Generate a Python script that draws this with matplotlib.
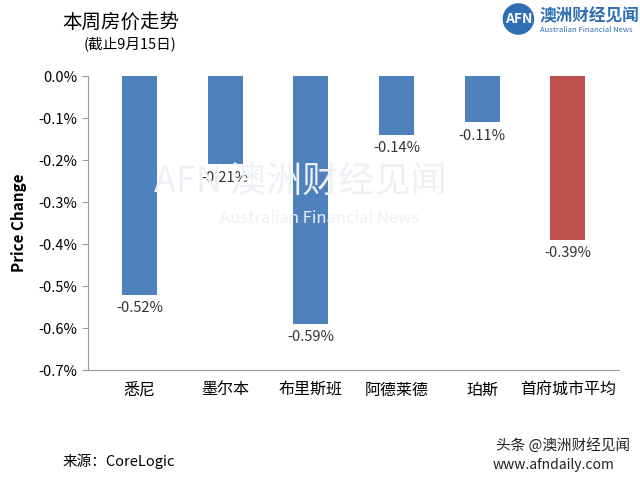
import matplotlib.pyplot as plt

plt.rcParams['font.family'] = ['Noto Sans CJK SC', 'DejaVu Sans']

cities = ["悉尼", "墨尔本", "布里斯班", "阿德莱德", "珀斯", "首府城市平均"]
changes = [-0.52, -0.21, -0.59, -0.14, -0.11, -0.39]
colors = ["#4f81bd"] * 5 + ["#c0504d"]
yticks = [0.0, -0.1, -0.2, -0.3, -0.4, -0.5, -0.6, -0.7]

fig = plt.figure(figsize=(6.4, 4.79), dpi=100)
# watermark drawn first, behind the axes
fig.text(0.47, 0.60, "AFN 澳洲财经见闻", fontsize=26, color="#edf1f6", ha="center", zorder=0)
fig.text(0.50, 0.535, "Australian Financial News", fontsize=12, color="#edf1f6", ha="center", zorder=0)

ax = fig.add_axes([0.1375, 0.227, 0.83, 0.614])
ax.patch.set_alpha(0)

x = list(range(len(cities)))
ax.bar(x, changes, width=0.41, color=colors, zorder=2)
for xi, v in zip(x, changes):
    ax.text(xi, v - 0.015, f"{v:.2f}%", ha="center", va="top", fontsize=10.5, color="#333333",
            bbox=dict(fc="white", ec="none", pad=0.5), zorder=3)

ax.set_ylim(-0.7, 0)
ax.set_xlim(-0.6, len(cities) - 0.4)
ax.set_yticks(yticks)
ax.set_yticklabels([f"{t:.1f}%" for t in yticks], fontsize=10.5)
ax.set_xticks(x)
ax.set_xticklabels(cities, fontsize=11.5)
ax.tick_params(axis="x", length=0, pad=8)
ax.tick_params(axis="y", length=4, color="#999999")
ax.set_ylabel("Price Change", fontsize=11, fontweight="bold", labelpad=8)
for s in ["top", "right"]:
    ax.spines[s].set_visible(False)
for s in ["left", "bottom"]:
    ax.spines[s].set_color("#999999")

fig.text(0.097, 0.975, "本周房价走势", fontsize=14, va="top")
fig.text(0.13, 0.925, "(截止9月15日)", fontsize=10.5, va="top")
fig.text(0.81, 0.975, "AFN", fontsize=10, color="white", fontweight="bold", va="top", ha="center",
         bbox=dict(boxstyle="circle,pad=0.15", fc="#2f6db5", ec="none"))
fig.text(0.843, 0.985, "澳洲财经见闻", fontsize=12, color="#2f6db5", fontweight="bold", va="top")
fig.text(0.843, 0.945, "Australian Financial News", fontsize=5.5, color="#2f6db5", va="top")
fig.text(0.097, 0.028, "来源：CoreLogic", fontsize=10.5)
fig.text(0.985, 0.06, "头条 @澳洲财经见闻", fontsize=10.5, ha="right", color="#222222")
fig.text(0.96, 0.02, "www.afndaily.com", fontsize=10, ha="right", color="#222222")

fig.savefig("out.png", dpi=100)
